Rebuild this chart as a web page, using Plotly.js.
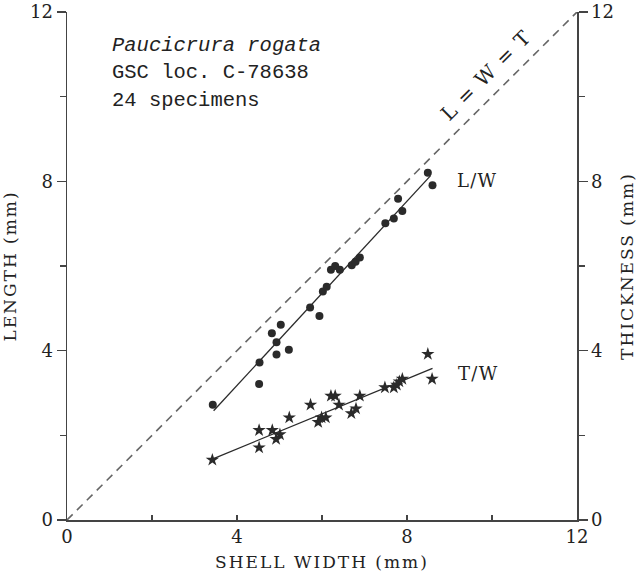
<!DOCTYPE html>
<html>
<head>
<meta charset="utf-8">
<script src="https://cdn.plot.ly/plotly-3.0.1.min.js"></script>
<style>
  html, body { margin: 0; padding: 0; background: #fff; }
  #chart { width: 641px; height: 576px; }
  .xtitle, .ytitle, .y2title { letter-spacing: 2px; }
  text.annotation-text[style*="Serif"] { letter-spacing: 1.3px; }
</style>
</head>
<body>
<div id="chart"></div>
<script>
// Length vs width (circles)
const lwWidth  = [3.43, 4.52, 4.53, 4.93, 5.22, 4.93, 4.82, 5.03, 5.94, 5.72, 6.02, 6.11, 6.21, 6.31, 6.42, 6.70, 6.79, 6.89, 7.49, 7.69, 7.89, 7.79, 8.49, 8.60];
const lwLength = [2.72, 3.21, 3.72, 3.91, 4.02, 4.20, 4.41, 4.61, 4.82, 5.02, 5.40, 5.51, 5.91, 6.00, 5.91, 6.02, 6.10, 6.20, 7.01, 7.12, 7.30, 7.59, 8.20, 7.91];
// Thickness vs width (stars)
const twWidth  = [3.42, 4.52, 4.52, 4.83, 4.92, 5.01, 5.23, 5.73, 5.91, 5.99, 6.09, 6.21, 6.31, 6.40, 6.69, 6.80, 6.89, 7.48, 7.69, 7.76, 7.82, 7.89, 8.49, 8.59];
const twThick  = [1.42, 1.71, 2.12, 2.12, 1.91, 2.02, 2.42, 2.72, 2.31, 2.42, 2.42, 2.93, 2.93, 2.72, 2.52, 2.63, 2.93, 3.13, 3.13, 3.19, 3.27, 3.33, 3.92, 3.33];
// Fitted lines
const lwFitX = [3.45, 8.55];
const lwFitY = [2.58, 8.13];
const twFitX = [3.42, 8.60];
const twFitY = [1.44, 3.58];
// Isometry line L = W = T
const isoX = [0, 12];
const isoY = [0, 12];
// Axis ticks
const tickVals = [0, 4, 8, 12];
const tickText = ['0', '4', '8', '12'];
const infoLines = ['<i>Paucicrura rogata</i>', 'GSC loc. C-78638', '24 specimens'];

const serif = 'DejaVu Serif, Liberation Serif, serif';
const mono = 'Liberation Mono, DejaVu Sans Mono, monospace';
const ink = '#2a2a2a';
const textCol = '#222';

const traces = [
  { x: isoX, y: isoY, mode: 'lines', line: { color: '#666', width: 1.6, dash: '8px,6px' }, hoverinfo: 'skip' },
  { x: lwFitX, y: lwFitY, mode: 'lines', line: { color: ink, width: 1.3 } },
  { x: lwWidth, y: lwLength, mode: 'markers', marker: { symbol: 'circle', size: 8, color: ink } },
  { x: twFitX, y: twFitY, mode: 'lines', yaxis: 'y2', line: { color: ink, width: 1.3 } },
  { x: twWidth, y: twThick, mode: 'markers', yaxis: 'y2', marker: { symbol: 'star', size: 10, color: ink } }
];

const yCommon = {
  range: [0, 12], tickvals: tickVals, ticktext: tickText,
  ticks: 'outside', ticklen: 9, tickwidth: 1.3, tickcolor: '#444',
  showline: true, linecolor: '#444', linewidth: 1.5,
  showgrid: false, zeroline: false, fixedrange: true,
  tickfont: { family: serif, size: 18, color: textCol },
  minor: { dtick: 2, ticks: 'outside', ticklen: 6, tickwidth: 1.2, tickcolor: '#444', showgrid: false }
};

const annotations = [];
infoLines.forEach((t, i) => {
  annotations.push({ x: 1.01, y: [11.22, 10.56, 9.90][i], xref: 'x', yref: 'y', text: t, showarrow: false,
    xanchor: 'left', yanchor: 'middle', font: { family: mono, size: 20.5, color: textCol } });
});
annotations.push({ x: 9.86, y: 10.51, xref: 'x', yref: 'y', text: 'L = W = T', showarrow: false, textangle: -45,
  font: { family: serif, size: 20, color: textCol } });
annotations.push({ x: 9.65, y: 8.01, xref: 'x', yref: 'y', text: 'L/W', showarrow: false,
  font: { family: serif, size: 18, color: textCol } });
annotations.push({ x: 9.67, y: 3.45, xref: 'x', yref: 'y', text: 'T/W', showarrow: false,
  font: { family: serif, size: 18, color: textCol } });

const layout = {
  width: 641, height: 576,
  margin: { l: 67, r: 64, t: 12, b: 56, pad: 0 },
  paper_bgcolor: '#fff', plot_bgcolor: '#fff',
  showlegend: false,
  xaxis: {
    range: [0, 12], tickvals: tickVals, ticktext: tickText,
    ticks: 'inside', ticklen: 5, tickwidth: 1.3, tickcolor: '#444',
    showline: true, linecolor: '#444', linewidth: 1.5,
    showgrid: false, zeroline: false, fixedrange: true,
    tickfont: { family: serif, size: 18, color: textCol },
    minor: { dtick: 2, ticks: 'inside', ticklen: 5, tickwidth: 1.2, tickcolor: '#444', showgrid: false },
    title: { text: 'SHELL WIDTH (mm)', font: { family: serif, size: 17, color: textCol }, standoff: 10 }
  },
  yaxis: Object.assign({}, yCommon, {
    title: { text: 'LENGTH (mm)', font: { family: serif, size: 17, color: textCol }, standoff: 10 }
  }),
  yaxis2: Object.assign({}, yCommon, {
    overlaying: 'y', side: 'right',
    title: { text: 'THICKNESS (mm)', font: { family: serif, size: 17, color: textCol }, standoff: 8 }
  }),
  annotations: annotations
};

Plotly.newPlot('chart', traces, layout, { displayModeBar: false, staticPlot: true });
</script>
</body>
</html>
